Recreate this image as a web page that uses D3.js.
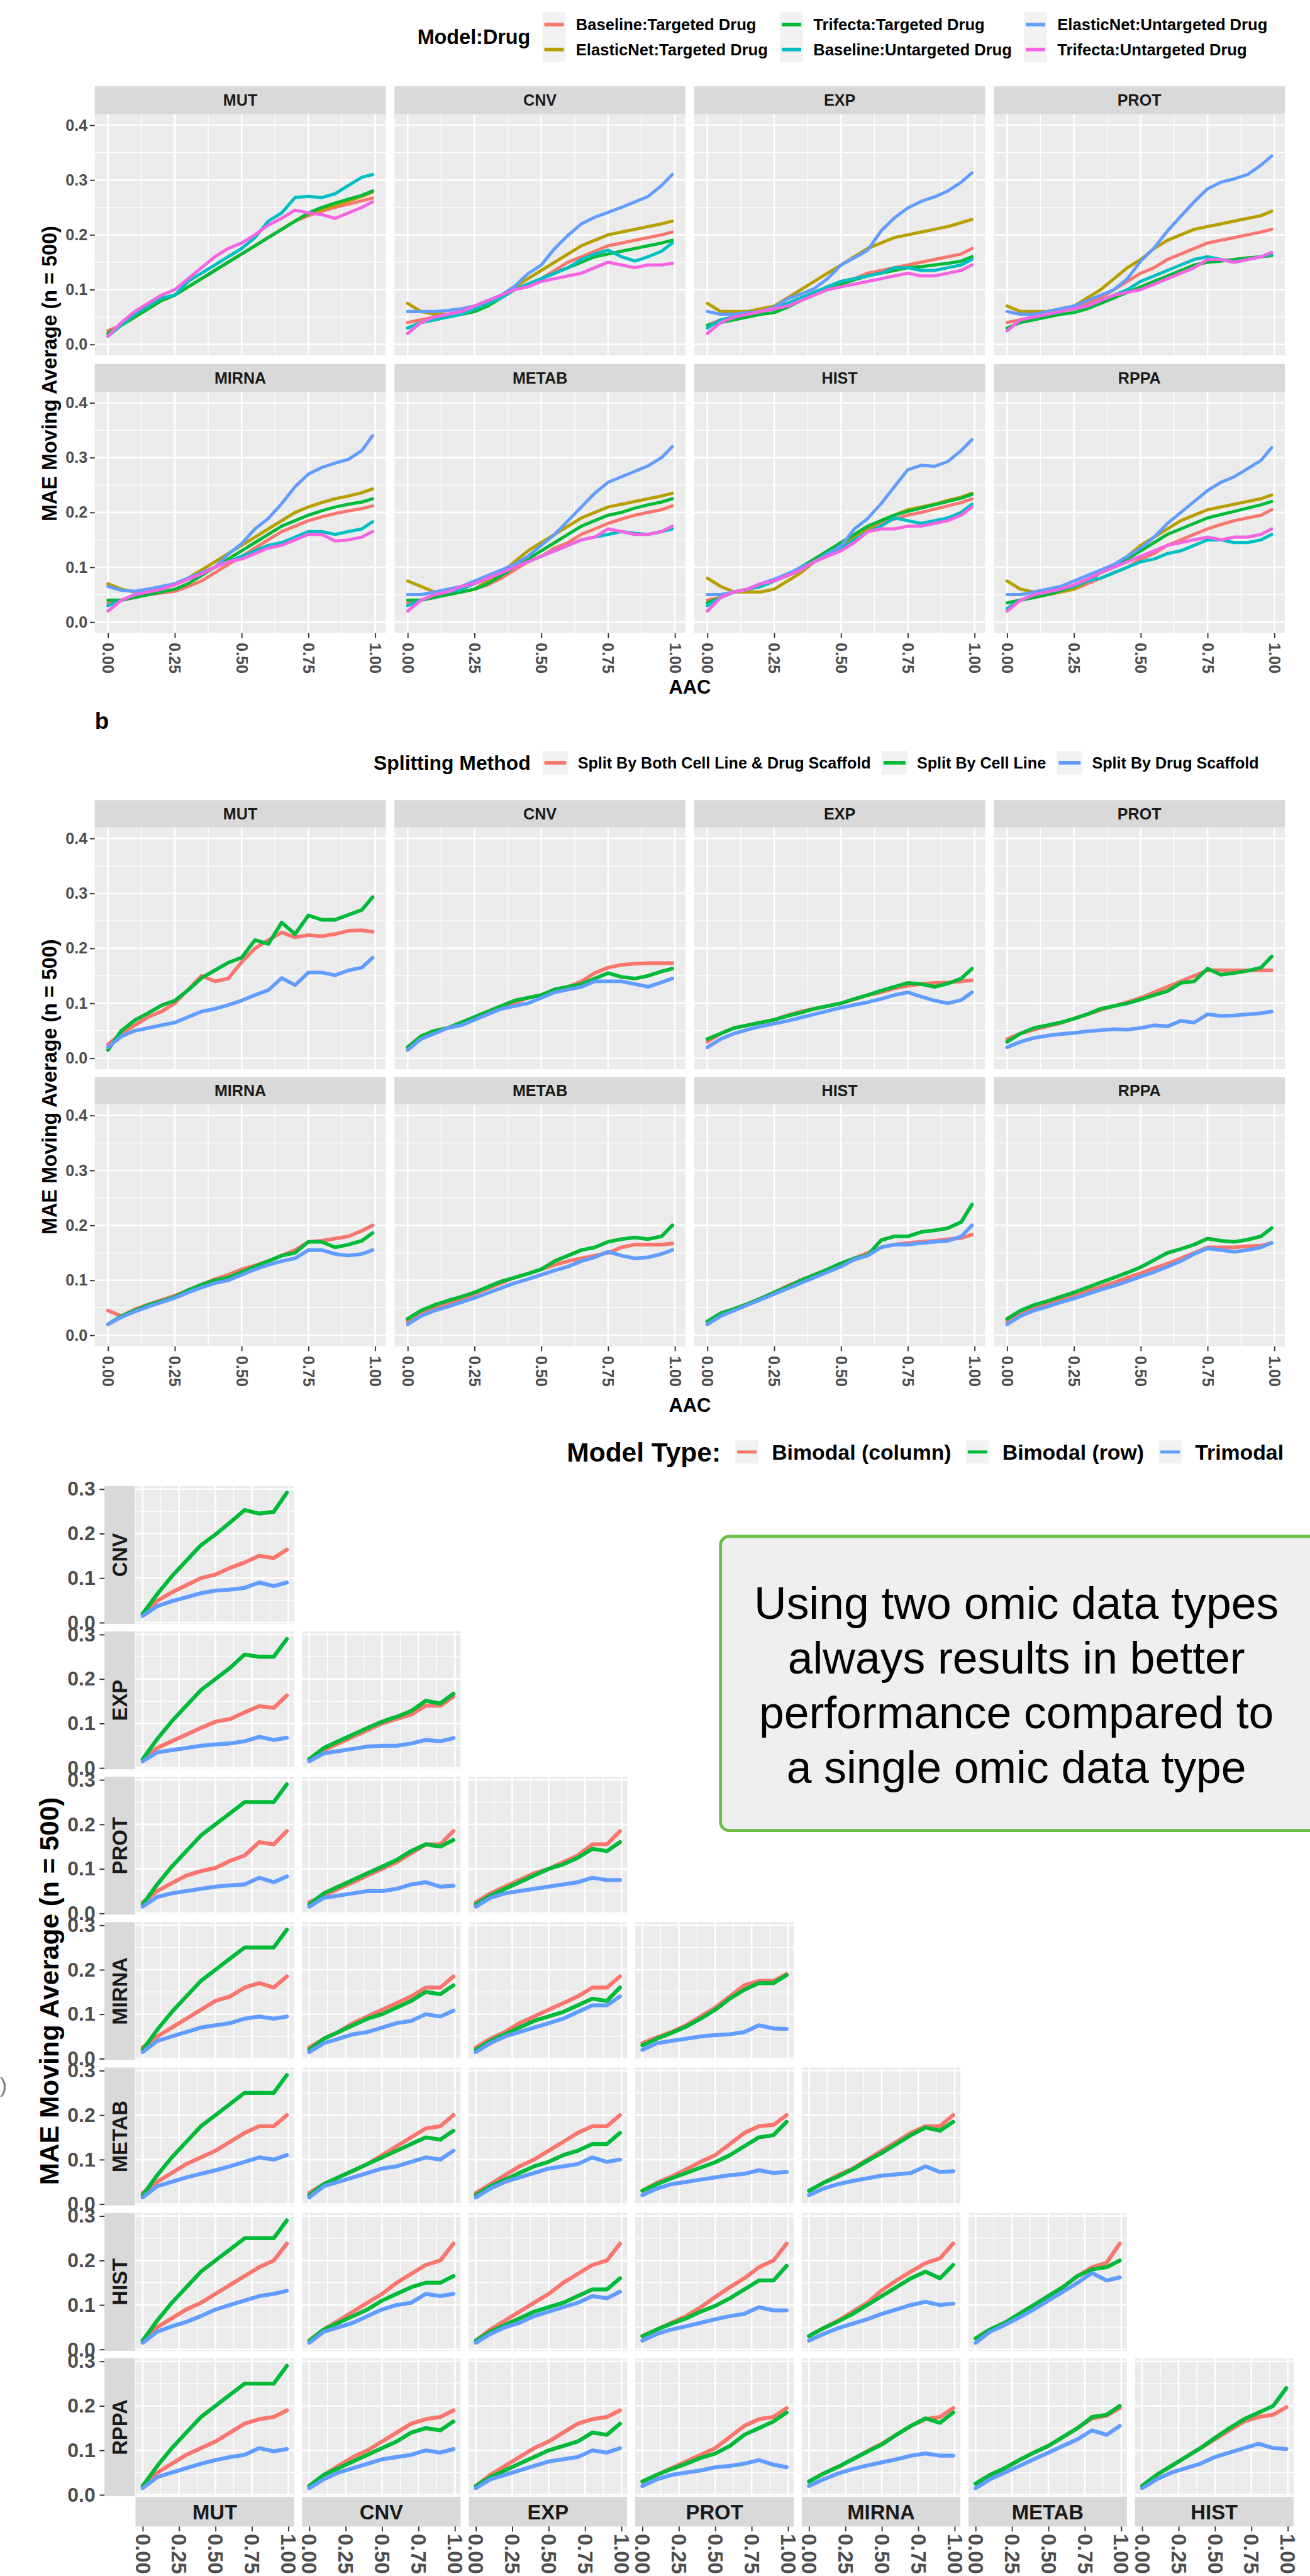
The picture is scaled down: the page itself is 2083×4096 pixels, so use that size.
<!DOCTYPE html>
<html>
<head>
<meta charset="utf-8">
<script src="https://cdn.jsdelivr.net/npm/d3@7"></script>
<style>
  body { margin: 0; background: #fff; }
  svg { display: block; }
</style>
</head>
<body>
<svg id="fig" width="2083" height="4096"></svg>
<script>
// ---- data ----------------------------------------------------------------
const aacFine = [0, .05, .1, .15, .2, .25, .3, .35, .4, .45, .5, .55, .6, .65, .7, .75, .8, .85, .9, .95, .99];
const aacCoarse = [0, .1, .2, .3, .4, .5, .6, .7, .8, .9, .99];

const omics = ["MUT", "CNV", "EXP", "PROT", "MIRNA", "METAB", "HIST", "RPPA"];
const cRows = ["CNV", "EXP", "PROT", "MIRNA", "METAB", "HIST", "RPPA"];
const cCols = ["MUT", "CNV", "EXP", "PROT", "MIRNA", "METAB", "HIST"];

const yTicksAB = [0, .1, .2, .3, .4];
const yTicksC = [0, .1, .2, .3];
const xTicks = [0, .25, .5, .75, 1];

// panel a: Model:Drug
const modelDrugNames = ["Baseline:Targeted Drug", "ElasticNet:Targeted Drug", "Trifecta:Targeted Drug",
  "Baseline:Untargeted Drug", "ElasticNet:Untargeted Drug", "Trifecta:Untargeted Drug"];
const modelDrugColors = ["#F8766D", "#B79F00", "#00BA38", "#00BFC4", "#619CFF", "#F564E3"];

const aBaselineTargeted = {
  MUT:   [.025,.035,.05,.065,.08,.09,.105,.12,.135,.15,.165,.18,.195,.21,.225,.235,.243,.25,.256,.262,.267],
  CNV:   [.04,.045,.05,.055,.06,.065,.075,.085,.1,.11,.12,.135,.15,.16,.17,.18,.185,.19,.195,.2,.205],
  EXP:   [.035,.045,.05,.055,.06,.065,.075,.085,.095,.105,.115,.12,.13,.135,.14,.145,.15,.155,.16,.165,.175],
  PROT:  [.04,.045,.05,.055,.06,.065,.075,.085,.1,.115,.13,.14,.155,.165,.175,.185,.19,.195,.2,.205,.21],
  MIRNA: [.035,.04,.045,.05,.053,.056,.065,.075,.09,.105,.12,.135,.15,.165,.175,.185,.192,.198,.203,.207,.212],
  METAB: [.035,.04,.045,.05,.055,.06,.068,.08,.095,.11,.12,.135,.145,.16,.17,.18,.188,.195,.2,.205,.212],
  HIST:  [.04,.045,.055,.06,.065,.075,.085,.095,.11,.125,.14,.155,.17,.18,.188,.195,.2,.206,.212,.218,.225],
  RPPA:  [.035,.04,.045,.05,.055,.06,.07,.08,.09,.1,.115,.125,.14,.15,.16,.17,.178,.185,.19,.195,.205]
};
const aElasticNetTargeted = {
  MUT:   [.02,.035,.05,.065,.08,.09,.105,.12,.135,.15,.165,.18,.195,.21,.225,.237,.246,.254,.262,.27,.278],
  CNV:   [.075,.06,.055,.055,.055,.06,.075,.09,.105,.12,.135,.15,.165,.18,.19,.2,.205,.21,.215,.22,.225],
  EXP:   [.075,.06,.06,.06,.065,.07,.085,.1,.115,.13,.145,.16,.175,.185,.195,.2,.205,.21,.215,.222,.228],
  PROT:  [.07,.06,.06,.06,.065,.07,.085,.1,.12,.14,.155,.175,.19,.2,.21,.215,.22,.225,.23,.235,.243],
  MIRNA: [.07,.06,.055,.058,.062,.068,.08,.095,.11,.125,.14,.155,.17,.185,.2,.21,.218,.225,.23,.236,.243],
  METAB: [.075,.065,.055,.05,.055,.06,.075,.09,.11,.13,.145,.16,.175,.19,.2,.21,.215,.22,.225,.23,.235],
  HIST:  [.08,.065,.055,.055,.055,.06,.075,.09,.11,.125,.14,.155,.17,.185,.195,.205,.21,.215,.222,.228,.235],
  RPPA:  [.075,.06,.055,.05,.055,.06,.075,.09,.105,.12,.14,.155,.17,.185,.195,.205,.21,.215,.22,.225,.232]
};
const aTrifectaTargeted = {
  MUT:   [.02,.035,.05,.065,.08,.09,.105,.12,.135,.15,.165,.18,.195,.21,.225,.24,.25,.258,.265,.272,.28],
  CNV:   [.03,.04,.045,.05,.055,.06,.07,.085,.1,.11,.12,.13,.14,.15,.16,.165,.17,.175,.18,.185,.19],
  EXP:   [.035,.04,.045,.05,.055,.058,.068,.08,.09,.1,.11,.118,.125,.13,.135,.14,.142,.145,.148,.152,.16],
  PROT:  [.03,.04,.045,.05,.055,.058,.065,.075,.085,.095,.105,.115,.125,.135,.145,.15,.152,.155,.158,.16,.162],
  MIRNA: [.04,.04,.045,.05,.055,.06,.07,.085,.1,.115,.13,.145,.16,.175,.185,.195,.203,.21,.215,.219,.225],
  METAB: [.04,.04,.045,.05,.055,.06,.07,.085,.1,.115,.13,.145,.16,.175,.185,.195,.2,.208,.214,.219,.225],
  HIST:  [.035,.045,.055,.06,.065,.075,.085,.1,.115,.13,.145,.16,.175,.185,.195,.202,.208,.214,.22,.226,.233],
  RPPA:  [.035,.04,.045,.05,.057,.065,.075,.09,.1,.115,.13,.145,.16,.17,.18,.19,.196,.202,.208,.214,.22]
};
const aBaselineUntargeted = {
  MUT:   [.015,.035,.055,.07,.085,.09,.115,.13,.145,.16,.175,.195,.225,.24,.268,.27,.268,.275,.29,.305,.31],
  CNV:   [.03,.04,.045,.05,.055,.065,.075,.085,.1,.11,.12,.13,.14,.155,.165,.172,.16,.152,.16,.17,.185],
  EXP:   [.03,.045,.05,.055,.06,.065,.075,.085,.095,.105,.115,.12,.125,.13,.14,.14,.135,.135,.14,.145,.155],
  PROT:  [.025,.045,.05,.055,.06,.065,.07,.08,.09,.1,.115,.125,.135,.145,.155,.16,.155,.15,.155,.16,.165],
  MIRNA: [.03,.04,.05,.055,.06,.07,.08,.09,.1,.11,.12,.13,.14,.145,.155,.165,.165,.16,.165,.17,.183],
  METAB: [.03,.04,.05,.055,.06,.07,.08,.09,.1,.11,.12,.13,.14,.15,.155,.16,.165,.162,.16,.165,.17],
  HIST:  [.03,.045,.055,.06,.065,.075,.085,.095,.11,.125,.135,.15,.165,.175,.19,.185,.18,.185,.19,.2,.215],
  RPPA:  [.025,.04,.05,.055,.06,.065,.075,.08,.09,.1,.11,.115,.125,.13,.14,.15,.15,.145,.145,.15,.16]
};
const aElasticNetUntargeted = {
  CNV:   [.06,.06,.06,.062,.065,.07,.08,.09,.106,.129,.145,.175,.199,.22,.232,.241,.25,.26,.27,.29,.31],
  EXP:   [.06,.055,.055,.058,.06,.068,.083,.092,.102,.12,.145,.158,.172,.207,.231,.249,.261,.269,.28,.296,.313],
  PROT:  [.06,.055,.055,.06,.065,.07,.08,.09,.1,.12,.152,.176,.207,.234,.26,.284,.296,.302,.31,.327,.344],
  MIRNA: [.065,.058,.056,.06,.065,.07,.08,.09,.1,.124,.143,.17,.189,.216,.247,.27,.282,.29,.297,.313,.34],
  METAB: [.05,.05,.055,.06,.065,.075,.085,.095,.105,.12,.14,.16,.185,.21,.235,.255,.265,.275,.285,.3,.32],
  HIST:  [.05,.05,.055,.06,.07,.078,.088,.1,.11,.125,.139,.17,.189,.216,.247,.278,.286,.284,.293,.313,.333],
  RPPA:  [.05,.05,.055,.06,.065,.075,.085,.095,.105,.12,.135,.155,.18,.2,.22,.24,.255,.265,.28,.295,.318]
};
const aTrifectaUntargeted = {
  MUT:   [.015,.04,.06,.075,.09,.1,.12,.14,.16,.175,.185,.2,.218,.23,.245,.24,.237,.23,.24,.25,.26],
  CNV:   [.02,.04,.05,.055,.06,.07,.08,.09,.1,.105,.115,.12,.125,.13,.14,.15,.145,.14,.145,.145,.148],
  EXP:   [.02,.04,.05,.055,.06,.065,.07,.08,.09,.1,.105,.11,.115,.12,.125,.13,.125,.125,.13,.135,.145],
  PROT:  [.025,.045,.05,.055,.06,.065,.07,.08,.09,.095,.1,.11,.12,.13,.14,.155,.155,.15,.155,.16,.168],
  MIRNA: [.02,.04,.05,.055,.06,.068,.078,.088,.1,.11,.115,.125,.135,.14,.15,.16,.16,.148,.15,.155,.165],
  METAB: [.02,.04,.05,.055,.065,.07,.08,.09,.1,.11,.12,.13,.14,.15,.155,.17,.165,.16,.16,.165,.175],
  HIST:  [.02,.045,.055,.06,.07,.075,.085,.095,.11,.12,.13,.145,.165,.17,.17,.175,.175,.18,.185,.195,.21],
  RPPA:  [.02,.04,.05,.055,.06,.068,.078,.09,.1,.11,.12,.13,.14,.145,.15,.155,.15,.155,.155,.16,.17]
};

// panel b: Splitting Method
const splitNames = ["Split By Both Cell Line & Drug Scaffold", "Split By Cell Line", "Split By Drug Scaffold"];
const threeColors = ["#F8766D", "#00BA38", "#619CFF"];

const bBoth = {
  MUT:   [.025,.045,.06,.075,.085,.1,.125,.15,.14,.145,.175,.2,.215,.229,.22,.224,.222,.226,.232,.233,.23],
  CNV:   [.02,.04,.05,.055,.065,.075,.085,.095,.1,.11,.115,.125,.13,.14,.155,.165,.17,.172,.173,.173,.173],
  EXP:   [.03,.045,.055,.06,.065,.07,.078,.085,.09,.095,.1,.107,.115,.12,.127,.132,.135,.137,.138,.14,.142],
  PROT:  [.035,.045,.052,.058,.064,.072,.08,.088,.095,.102,.11,.12,.13,.14,.15,.16,.16,.16,.16,.16,.16],
  MIRNA: [.045,.035,.047,.056,.064,.072,.082,.092,.102,.11,.12,.127,.135,.145,.155,.17,.172,.176,.18,.19,.2],
  METAB: [.025,.04,.05,.057,.065,.075,.085,.095,.105,.112,.12,.128,.135,.14,.145,.15,.16,.165,.165,.165,.167],
  HIST:  [.025,.04,.048,.057,.067,.078,.09,.1,.11,.12,.13,.14,.15,.16,.165,.168,.17,.172,.175,.177,.183],
  RPPA:  [.025,.04,.05,.058,.065,.072,.08,.088,.096,.105,.113,.122,.13,.14,.15,.16,.16,.16,.162,.163,.168]
};
const bCellLine = {
  MUT:   [.015,.05,.069,.082,.096,.105,.124,.146,.16,.174,.183,.215,.208,.247,.226,.26,.252,.252,.261,.27,.293],
  CNV:   [.02,.04,.05,.055,.065,.075,.085,.095,.105,.11,.115,.125,.13,.135,.145,.155,.148,.145,.15,.158,.163],
  EXP:   [.035,.045,.055,.06,.065,.07,.077,.083,.09,.095,.1,.108,.115,.123,.13,.137,.135,.13,.136,.145,.163],
  PROT:  [.03,.045,.055,.06,.065,.072,.08,.09,.095,.1,.107,.115,.122,.137,.14,.163,.152,.155,.159,.165,.185],
  MIRNA: [.02,.035,.045,.055,.062,.07,.082,.092,.1,.105,.115,.125,.135,.145,.15,.17,.17,.16,.165,.172,.186],
  METAB: [.03,.045,.055,.063,.07,.078,.088,.098,.105,.112,.12,.135,.145,.155,.16,.17,.175,.178,.175,.18,.2],
  HIST:  [.025,.04,.048,.057,.067,.078,.088,.1,.11,.12,.131,.14,.146,.173,.18,.18,.188,.191,.195,.206,.238],
  RPPA:  [.03,.045,.055,.062,.07,.078,.087,.096,.105,.114,.124,.137,.15,.157,.165,.176,.172,.17,.174,.18,.195]
};
const bDrugScaffold = {
  MUT:   [.02,.04,.05,.055,.06,.065,.075,.085,.09,.097,.105,.115,.124,.146,.133,.156,.156,.151,.16,.165,.183],
  CNV:   [.015,.035,.045,.055,.06,.07,.08,.09,.095,.1,.11,.12,.125,.13,.14,.14,.14,.135,.13,.138,.145],
  EXP:   [.02,.035,.045,.052,.058,.063,.068,.074,.08,.086,.092,.097,.102,.108,.115,.12,.112,.105,.1,.106,.12],
  PROT:  [.02,.03,.037,.041,.044,.046,.049,.051,.053,.052,.055,.06,.058,.068,.065,.08,.077,.078,.08,.082,.085],
  MIRNA: [.02,.033,.043,.052,.06,.068,.078,.087,.095,.1,.11,.12,.128,.135,.14,.155,.155,.148,.145,.148,.155],
  METAB: [.02,.035,.045,.052,.06,.068,.077,.086,.095,.102,.11,.118,.125,.135,.142,.152,.145,.14,.142,.148,.155],
  HIST:  [.02,.035,.045,.055,.065,.075,.085,.095,.105,.115,.125,.138,.145,.16,.165,.165,.168,.17,.172,.18,.2],
  RPPA:  [.02,.035,.045,.052,.06,.067,.075,.083,.09,.098,.107,.115,.125,.135,.148,.158,.155,.152,.155,.16,.168]
};

// panel c: Model Type, rows x columns (lower triangle)
const modelTypeNames = ["Bimodal (column)", "Bimodal (row)", "Trimodal"];

const cBimodalColumn = {
  CNV:   { MUT: [.02,.049,.068,.084,.1,.108,.123,.135,.15,.145,.164] },
  EXP:   { MUT: [.02,.045,.06,.075,.09,.104,.11,.125,.139,.135,.163],
           CNV: [.02,.04,.055,.07,.085,.1,.11,.12,.14,.14,.16] },
  PROT:  { MUT: [.025,.05,.068,.085,.095,.102,.118,.13,.16,.155,.185],
           CNV: [.025,.04,.055,.07,.085,.1,.115,.135,.155,.155,.185],
           EXP: [.025,.045,.06,.075,.09,.1,.115,.13,.155,.155,.185] },
  MIRNA: { MUT: [.025,.05,.07,.09,.11,.13,.14,.16,.17,.16,.185],
           CNV: [.025,.045,.06,.08,.095,.11,.125,.14,.16,.16,.185],
           EXP: [.025,.045,.06,.08,.095,.11,.125,.14,.16,.16,.185],
           PROT: [.035,.048,.06,.075,.095,.115,.14,.165,.175,.175,.19] },
  METAB: { MUT: [.025,.05,.07,.09,.105,.12,.14,.16,.175,.175,.2],
           CNV: [.025,.045,.06,.075,.09,.11,.13,.15,.17,.175,.2],
           EXP: [.025,.045,.065,.085,.1,.12,.14,.16,.175,.175,.2],
           PROT: [.03,.048,.062,.078,.095,.11,.135,.16,.175,.178,.2],
           MIRNA: [.03,.048,.065,.08,.1,.12,.14,.16,.175,.175,.2] },
  HIST:  { MUT: [.02,.05,.07,.09,.105,.125,.145,.165,.185,.2,.238],
           CNV: [.02,.045,.065,.085,.105,.125,.15,.17,.19,.2,.238],
           EXP: [.02,.045,.065,.085,.105,.125,.15,.17,.19,.2,.238],
           PROT: [.03,.045,.06,.075,.095,.118,.14,.16,.185,.2,.238],
           MIRNA: [.03,.048,.065,.085,.105,.133,.155,.175,.194,.205,.238],
           METAB: [.025,.045,.06,.08,.1,.12,.14,.165,.185,.195,.238] },
  RPPA:  { MUT: [.02,.05,.07,.09,.105,.12,.14,.16,.17,.175,.19],
           CNV: [.02,.045,.065,.085,.1,.12,.14,.16,.17,.175,.19],
           EXP: [.02,.045,.065,.085,.105,.12,.14,.16,.17,.175,.19],
           PROT: [.03,.045,.06,.075,.09,.105,.13,.155,.17,.175,.195],
           MIRNA: [.03,.048,.063,.08,.098,.115,.135,.155,.17,.175,.195],
           METAB: [.025,.045,.06,.078,.095,.11,.13,.15,.172,.178,.195],
           HIST: [.02,.045,.065,.085,.105,.125,.145,.165,.175,.18,.197] }
};
const cBimodalRow = {
  CNV:   { MUT: [.02,.064,.104,.139,.174,.198,.225,.253,.245,.249,.292] },
  EXP:   { MUT: [.02,.065,.105,.14,.175,.2,.225,.255,.25,.25,.29],
           CNV: [.02,.045,.06,.075,.09,.104,.115,.128,.151,.145,.167] },
  PROT:  { MUT: [.02,.065,.105,.14,.175,.2,.225,.25,.25,.25,.29],
           CNV: [.02,.045,.06,.075,.09,.105,.12,.14,.155,.15,.165],
           EXP: [.02,.04,.055,.07,.085,.1,.11,.125,.145,.14,.16] },
  MIRNA: { MUT: [.02,.065,.105,.14,.175,.2,.225,.25,.25,.25,.29],
           CNV: [.02,.045,.06,.075,.09,.1,.115,.13,.15,.145,.165],
           EXP: [.02,.04,.055,.07,.085,.095,.105,.12,.135,.13,.16],
           PROT: [.03,.045,.058,.072,.09,.11,.135,.155,.17,.17,.188] },
  METAB: { MUT: [.02,.065,.105,.14,.175,.2,.225,.25,.25,.25,.29],
           CNV: [.02,.045,.06,.075,.09,.105,.12,.135,.15,.145,.165],
           EXP: [.02,.04,.055,.07,.085,.095,.11,.12,.135,.135,.16],
           PROT: [.03,.045,.058,.07,.082,.094,.11,.13,.15,.155,.185],
           MIRNA: [.03,.048,.062,.078,.097,.115,.135,.155,.172,.165,.185] },
  HIST:  { MUT: [.02,.065,.105,.14,.175,.2,.225,.25,.25,.25,.29],
           CNV: [.02,.045,.06,.075,.09,.11,.125,.14,.15,.15,.165],
           EXP: [.02,.04,.055,.07,.085,.095,.105,.12,.135,.135,.16],
           PROT: [.03,.045,.058,.07,.085,.098,.115,.135,.155,.155,.188],
           MIRNA: [.03,.048,.063,.08,.1,.12,.14,.16,.175,.16,.19],
           METAB: [.025,.045,.06,.08,.1,.12,.14,.165,.18,.185,.2] },
  RPPA:  { MUT: [.02,.065,.105,.14,.175,.2,.225,.25,.25,.25,.29],
           CNV: [.02,.045,.06,.075,.09,.105,.12,.14,.15,.145,.165],
           EXP: [.02,.04,.055,.07,.085,.1,.11,.12,.14,.135,.16],
           PROT: [.03,.045,.058,.07,.083,.093,.11,.135,.15,.165,.185],
           MIRNA: [.03,.048,.063,.08,.097,.113,.135,.155,.172,.162,.185],
           METAB: [.025,.045,.06,.078,.095,.11,.13,.15,.175,.18,.2],
           HIST: [.02,.045,.065,.085,.105,.128,.15,.17,.185,.2,.24] }
};
const cTrimodal = {
  CNV:   { MUT: [.015,.037,.048,.057,.066,.072,.074,.078,.09,.082,.09] },
  EXP:   { MUT: [.015,.035,.04,.045,.05,.053,.055,.06,.07,.063,.068],
           CNV: [.015,.033,.038,.043,.048,.05,.05,.055,.063,.06,.067] },
  PROT:  { MUT: [.015,.037,.045,.05,.055,.06,.063,.065,.08,.07,.083],
           CNV: [.015,.035,.04,.045,.05,.05,.055,.065,.07,.06,.062],
           EXP: [.015,.035,.045,.05,.055,.06,.065,.07,.08,.075,.075] },
  MIRNA: { MUT: [.015,.04,.05,.06,.07,.075,.08,.09,.095,.09,.095],
           CNV: [.015,.035,.045,.055,.06,.07,.08,.085,.1,.095,.108],
           EXP: [.015,.035,.05,.06,.07,.08,.09,.105,.12,.12,.14],
           PROT: [.02,.035,.04,.045,.05,.053,.055,.06,.075,.068,.067] },
  METAB: { MUT: [.015,.04,.05,.06,.068,.076,.085,.095,.105,.1,.11],
           CNV: [.015,.04,.05,.06,.07,.08,.085,.095,.105,.1,.12],
           EXP: [.015,.035,.05,.06,.07,.08,.085,.09,.105,.095,.1],
           PROT: [.02,.035,.045,.05,.055,.06,.065,.068,.076,.07,.072],
           MIRNA: [.02,.035,.045,.052,.058,.064,.067,.07,.085,.072,.074] },
  HIST:  { MUT: [.015,.04,.052,.062,.075,.09,.1,.11,.12,.125,.132],
           CNV: [.015,.04,.05,.06,.075,.09,.1,.105,.125,.12,.125],
           EXP: [.015,.035,.05,.06,.075,.085,.095,.105,.12,.115,.13],
           PROT: [.02,.035,.045,.052,.06,.068,.075,.08,.095,.088,.088],
           MIRNA: [.02,.035,.048,.058,.068,.08,.09,.1,.107,.1,.103],
           METAB: [.015,.04,.055,.072,.09,.11,.13,.15,.172,.155,.162] },
  RPPA:  { MUT: [.015,.04,.05,.06,.07,.078,.085,.09,.105,.098,.103],
           CNV: [.015,.035,.05,.06,.07,.08,.085,.09,.1,.095,.103],
           EXP: [.015,.035,.045,.055,.065,.075,.08,.085,.1,.095,.105],
           PROT: [.02,.035,.045,.05,.055,.062,.065,.07,.078,.068,.062],
           MIRNA: [.02,.035,.048,.058,.066,.073,.08,.088,.093,.088,.088],
           METAB: [.015,.035,.05,.065,.08,.095,.11,.125,.145,.135,.155],
           HIST: [.015,.035,.05,.06,.07,.085,.095,.105,.115,.105,.103] }
};

const calloutLines = ["Using two omic data types", "always results in better",
  "performance compared to", "a single omic data type"];

// ---- drawing -------------------------------------------------------------
const FONT = "'Liberation Sans', Arial, Helvetica, sans-serif";
const X_DOMAIN = [-0.0495, 1.0395];

let svg = d3.select("#fig").attr("font-family", FONT);
let root = svg.append("g").attr("transform", "scale(0.966)");

function txt(g, x, y, s, size, opts) {
  opts = opts || {};
  return g.append("text")
    .attr("x", x).attr("y", y)
    .attr("dy", "0.35em")
    .attr("font-size", size)
    .attr("font-weight", opts.weight || "bold")
    .attr("fill", opts.fill || "#000")
    .attr("text-anchor", opts.anchor || "start")
    .attr("transform", opts.rotate ? `rotate(${opts.rotate},${x},${y})` : null)
    .text(s);
}

function drawPanel(g, x, y, grid, series, lw) {
  let [xa, xb] = x.range(), [yb, yt] = y.range();
  g.append("rect").attr("x", xa).attr("y", yt).attr("width", xb - xa).attr("height", yb - yt).attr("fill", "#EBEBEB");
  let hl = (vals, w) => g.selectAll(null).data(vals).join("line")
    .attr("x1", xa).attr("x2", xb).attr("y1", d => y(d)).attr("y2", d => y(d))
    .attr("stroke", "#fff").attr("stroke-width", w);
  let vl = (vals, w) => g.selectAll(null).data(vals).join("line")
    .attr("y1", yt).attr("y2", yb).attr("x1", d => x(d)).attr("x2", d => x(d))
    .attr("stroke", "#fff").attr("stroke-width", w);
  hl(grid.yMinor, 1.3); vl(grid.xMinor, 1.3);
  hl(grid.yMajor, 2.7); vl(grid.xMajor, 2.7);

  let line = d3.line().x(d => x(d[0])).y(d => y(d[1]));
  series.forEach(s => {
    if (!s.values) return;
    g.append("path")
      .datum(s.xs.map((v, i) => [v, s.values[i]]))
      .attr("d", line)
      .attr("fill", "none")
      .attr("stroke", s.color)
      .attr("stroke-width", lw)
      .attr("stroke-linejoin", "round")
      .attr("stroke-linecap", "round");
  });
}

function styleAxis(ax, size) {
  ax.attr("font-family", FONT).attr("font-size", size).attr("font-weight", "bold");
  ax.select(".domain").remove();
  ax.selectAll(".tick line").attr("stroke", "#333333").attr("stroke-width", 2);
  ax.selectAll(".tick text").attr("fill", "#4D4D4D");
}

function xAxisRotated(g, x, yPos, size, pad) {
  let ax = g.append("g").attr("transform", `translate(0,${yPos})`)
    .call(d3.axisBottom(x).tickValues(xTicks).tickFormat(d3.format(".2f")).tickSize(8));
  styleAxis(ax, size);
  ax.selectAll(".tick text")
    .attr("y", 0).attr("x", 8 + pad).attr("dy", "0.36em")
    .attr("transform", "rotate(90)")
    .attr("text-anchor", "start");
}

function legendKey(g, x, y, w, h, color, lw) {
  g.append("rect").attr("x", x).attr("y", y).attr("width", w).attr("height", h).attr("fill", "#F2F2F2");
  g.append("line").attr("x1", x + 3).attr("x2", x + w - 3).attr("y1", y + h / 2).attr("y2", y + h / 2)
    .attr("stroke", color).attr("stroke-width", lw);
}

const gridAB = {
  yMajor: yTicksAB, yMinor: [.05, .15, .25, .35],
  xMajor: xTicks, xMinor: [.125, .375, .625, .875]
};
const gridC = {
  yMajor: yTicksC, yMinor: [.05, .15, .25],
  xMajor: xTicks, xMinor: [.125, .375, .625, .875]
};

// facet_wrap style block, 2 rows x 4 columns
function drawWrap(g, cfg) {
  let colX = [156, 649.3, 1142.6, 1636], colW = 479;
  omics.forEach((om, i) => {
    let row = Math.floor(i / 4), col = i % 4;
    let stripY = cfg.top + row * cfg.pitch;
    let panelY = stripY + cfg.stripH;
    g.append("rect").attr("x", colX[col]).attr("y", stripY).attr("width", colW).attr("height", cfg.stripH).attr("fill", "#D9D9D9");
    txt(g, colX[col] + colW / 2, stripY + cfg.stripH / 2, om, 26, { anchor: "middle", fill: "#1A1A1A" });

    let x = d3.scaleLinear().domain(X_DOMAIN).range([colX[col], colX[col] + colW]);
    let y = d3.scaleLinear().domain([-0.02, 0.42]).range([panelY + cfg.panelH, panelY]);
    let series = cfg.series.map((s, k) => ({ xs: aacFine, values: s[om], color: cfg.colors[k] }));
    drawPanel(g, x, y, gridAB, series, cfg.lw);

    if (col === 0) {
      let ax = g.append("g").attr("transform", `translate(${colX[0]},0)`)
        .call(d3.axisLeft(y).tickValues(yTicksAB).tickFormat(d3.format(".1f")).tickSize(8).tickPadding(4));
      styleAxis(ax, 26);
    }
    if (row === 1) xAxisRotated(g, x, panelY + cfg.panelH, 26, 8);
  });
  let areaTop = cfg.top + cfg.stripH, areaBot = cfg.top + cfg.pitch + cfg.stripH + cfg.panelH;
  txt(g, 81, (areaTop + areaBot) / 2, "MAE Moving Average (n = 500)", 33.5, { anchor: "middle", rotate: -90 });
  txt(g, 1135.5, cfg.aacY, "AAC", 32, { anchor: "middle" });
}

// ---- panel a ----
let ga = root.append("g");
txt(ga, 687, 61, "Model:Drug", 33.5);
{
  let keyX = 893;
  for (let c = 0; c < 3; c++) {
    let maxW = 0;
    for (let r = 0; r < 2; r++) {
      let k = c * 2 + r;
      let top = 20 + r * 41;
      legendKey(ga, keyX, top, 38, 41, modelDrugColors[k], 6);
      let t = txt(ga, keyX + 55, top + 20.5, modelDrugNames[k], 26.5);
      maxW = Math.max(maxW, t.node().getComputedTextLength());
    }
    keyX = keyX + 55 + maxW + 20;
  }
}
drawWrap(ga, {
  top: 142, stripH: 46, panelH: 397, pitch: 457, aacY: 1131, lw: 5.2,
  colors: modelDrugColors,
  series: [aBaselineTargeted, aElasticNetTargeted, aTrifectaTargeted,
           aBaselineUntargeted, aElasticNetUntargeted, aTrifectaUntargeted]
});

// ---- panel b ----
let gb = root.append("g");
txt(gb, 156, 1187, "b", 38);
txt(gb, 615, 1256, "Splitting Method", 33);
{
  let keyX = 893;
  splitNames.forEach((nm, k) => {
    legendKey(gb, keyX, 1236, 42, 39, threeColors[k], 6);
    let t = txt(gb, keyX + 58, 1256, nm, 26);
    keyX = keyX + 58 + t.node().getComputedTextLength() + 18;
  });
}
drawWrap(gb, {
  top: 1317, stripH: 45, panelH: 398, pitch: 456, aacY: 2313, lw: 6,
  colors: threeColors,
  series: [bBoth, bCellLine, bDrugScaffold]
});

// ---- panel c ----
let gc = root.append("g");
{
  let t = txt(gc, 933, 2390, "Model Type:", 44);
  let keyX = 933 + t.node().getComputedTextLength() + 24;
  modelTypeNames.forEach((nm, k) => {
    legendKey(gc, keyX, 2371, 38, 38, threeColors[k], 5);
    let lt = txt(gc, keyX + 60, 2390, nm, 35);
    keyX = keyX + 60 + lt.node().getComputedTextLength() + 24;
  });
}
{
  let colX0 = 223, colPitch = 274.2, panelW = 261;
  let rowY0 = 2446, rowPitch = 239.3, panelH = 227;
  let lastBottom = rowY0 + (cRows.length - 1) * rowPitch + panelH;

  cRows.forEach((rn, i) => {
    let py = rowY0 + i * rowPitch;
    let y = d3.scaleLinear().domain([-0.003, 0.307]).range([py + panelH, py]);
    // row strip on the left
    gc.append("rect").attr("x", 172).attr("y", py).attr("width", 50).attr("height", panelH).attr("fill", "#D9D9D9");
    txt(gc, 197, py + panelH / 2, rn, 34, { anchor: "middle", rotate: -90, fill: "#1A1A1A" });
    let ax = gc.append("g").attr("transform", "translate(172,0)")
      .call(d3.axisLeft(y).tickValues(yTicksC).tickFormat(d3.format(".1f")).tickSize(8).tickPadding(7));
    styleAxis(ax, 33);

    for (let j = 0; j <= i; j++) {
      let cn = cCols[j];
      let px = colX0 + j * colPitch;
      let x = d3.scaleLinear().domain(X_DOMAIN).range([px, px + panelW]);
      drawPanel(gc, x, y, gridC, [
        { xs: aacCoarse, values: cBimodalColumn[rn][cn], color: threeColors[0] },
        { xs: aacCoarse, values: cBimodalRow[rn][cn], color: threeColors[1] },
        { xs: aacCoarse, values: cTrimodal[rn][cn], color: threeColors[2] }
      ], 6.5);
    }
  });

  // column strips and x axes under the last row
  cCols.forEach((cn, j) => {
    let px = colX0 + j * colPitch;
    gc.append("rect").attr("x", px).attr("y", lastBottom + 1).attr("width", panelW).attr("height", 49).attr("fill", "#D9D9D9");
    txt(gc, px + panelW / 2, lastBottom + 26, cn, 34, { anchor: "middle", fill: "#1A1A1A" });
    let x = d3.scaleLinear().domain(X_DOMAIN).range([px, px + panelW]);
    xAxisRotated(gc, x, lastBottom + 50, 34, 4);
  });

  txt(gc, 81, (rowY0 + lastBottom) / 2, "MAE Moving Average (n = 500)", 44, { anchor: "middle", rotate: -90 });
}

// stray glyph at the left margin
txt(root, 0, 3432, ")", 34, { weight: "normal", fill: "#777" });

// callout box
{
  let gbox = root.append("g");
  gbox.append("rect").attr("x", 1186).attr("y", 2529).attr("width", 1010).attr("height", 484)
    .attr("rx", 14).attr("fill", "#EFEFEF").attr("stroke", "#6DBE45").attr("stroke-width", 5);
  calloutLines.forEach((s, i) => txt(gbox, 1673, 2639 + i * 90, s, 74, { anchor: "middle", weight: "normal" }));
}
</script>
</body>
</html>
